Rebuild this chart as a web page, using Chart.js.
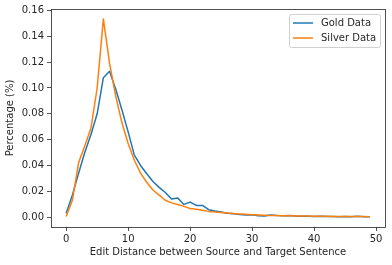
<!DOCTYPE html>
<html>
<head>
<meta charset="utf-8">
<script src="https://cdn.jsdelivr.net/npm/chart.js@4/dist/chart.umd.min.js"></script>
<style>
  body { margin: 0; background: #fff; }
  #wrap { width: 392px; height: 265px; }
</style>
</head>
<body>
<div id="wrap"><canvas id="chart"></canvas></div>
<script>
const distances = [0, 1, 2, 3, 4, 5, 6, 7, 8, 9, 10, 11, 12, 13, 14, 15, 16, 17, 18, 19,
  20, 21, 22, 23, 24, 25, 26, 27, 28, 29, 30, 31, 32, 33, 34, 35, 36, 37, 38, 39,
  40, 41, 42, 43, 44, 45, 46, 47, 48, 49];

const goldData = [0.003, 0.017, 0.034, 0.050, 0.064, 0.080, 0.108, 0.113, 0.099, 0.083,
  0.066, 0.048, 0.040, 0.0336, 0.0276, 0.023, 0.019, 0.014, 0.0147, 0.0098,
  0.0116, 0.009, 0.009, 0.0057, 0.0047, 0.004, 0.003, 0.0025, 0.002, 0.0015,
  0.0017, 0.001, 0.0008, 0.0016, 0.0012, 0.001, 0.0013, 0.0008, 0.0006, 0.0007,
  0.0005, 0.0006, 0.0004, 0.0005, 0.0003, 0.0004, 0.0003, 0.0006, 0.0003, 0.0002];

const silverData = [0.0005, 0.013, 0.042, 0.055, 0.069, 0.100, 0.1535, 0.119, 0.0935, 0.073,
  0.057, 0.044, 0.034, 0.027, 0.021, 0.017, 0.013, 0.011, 0.0098, 0.0083,
  0.0067, 0.006, 0.0052, 0.0044, 0.0039, 0.0036, 0.0032, 0.0028, 0.0024, 0.0021,
  0.0018, 0.0016, 0.0014, 0.0013, 0.0012, 0.0011, 0.001, 0.0009, 0.0008, 0.0008,
  0.0007, 0.0006, 0.0006, 0.0005, 0.0005, 0.0005, 0.0004, 0.0004, 0.0004, 0.0003];

const seriesLabels = ["Gold Data", "Silver Data"];
const seriesColors = ["#1f77b4", "#ff7f0e"];
const xTicks = [0, 10, 20, 30, 40, 50];
const yTicks = [0, 0.02, 0.04, 0.06, 0.08, 0.10, 0.12, 0.14, 0.16];

const FONT = "DejaVu Sans";
const INK = "#262626";

const toPoints = (values) => values.map((y, i) => ({ x: distances[i], y }));

// matplotlib-like box around the axes plus the legend in the upper right
const frameAndLegend = {
  id: "frameAndLegend",
  afterDraw(chart) {
    const { ctx, chartArea } = chart;
    ctx.save();
    ctx.strokeStyle = INK;
    ctx.lineWidth = 0.8;
    ctx.strokeRect(chartArea.left + 0.5, chartArea.top + 0.5,
      chartArea.right - chartArea.left, chartArea.bottom - chartArea.top);

    const w = 91, h = 33;
    const x = chartArea.right - 5 - w, y = chartArea.top + 5.5;
    ctx.beginPath();
    ctx.roundRect(x + 0.5, y, w, h, 2);
    ctx.fillStyle = "rgba(255,255,255,0.8)";
    ctx.fill();
    ctx.strokeStyle = "#d0d0d0";
    ctx.lineWidth = 1;
    ctx.stroke();

    ctx.font = `10px "${FONT}"`;
    ctx.textBaseline = "middle";
    seriesLabels.forEach((label, i) => {
      const ly = y + 8.5 + i * 15;
      ctx.strokeStyle = seriesColors[i];
      ctx.lineWidth = 1.5;
      ctx.beginPath();
      ctx.moveTo(x + 4, ly);
      ctx.lineTo(x + 24, ly);
      ctx.stroke();
      ctx.fillStyle = INK;
      ctx.fillText(label, x + 32, ly);
    });
    ctx.restore();
  },
};

const lineStyle = {
  borderWidth: 1.5,
  borderJoinStyle: "round",
  borderCapStyle: "butt",
  pointRadius: 0,
};

new Chart(document.getElementById("chart"), {
  type: "line",
  data: {
    datasets: [
      { ...lineStyle, label: seriesLabels[0], data: toPoints(goldData), borderColor: seriesColors[0], order: 1 },
      { ...lineStyle, label: seriesLabels[1], data: toPoints(silverData), borderColor: seriesColors[1], order: 0 },
    ],
  },
  options: {
    responsive: true,
    maintainAspectRatio: false,
    animation: false,
    layout: { padding: { left: 0, top: 9, right: 7, bottom: 0 } },
    plugins: {
      legend: { display: false },
      tooltip: { enabled: false },
    },
    scales: {
      x: {
        type: "linear",
        min: -2.45,
        max: 51.45,
        afterFit: (scale) => { scale.height = 38; },
        afterBuildTicks: (scale) => { scale.ticks = xTicks.map((value) => ({ value })); },
        border: { display: false },
        grid: { drawOnChartArea: false, tickLength: 4, color: INK, tickWidth: 0.8 },
        ticks: {
          padding: 2,
          color: INK,
          font: { family: FONT, size: 10 },
          callback: (v) => String(v),
        },
        title: {
          display: true,
          text: "Edit Distance between Source and Target Sentence",
          color: INK,
          font: { family: FONT, size: 10 },
          padding: { top: 0, bottom: 7 },
        },
      },
      y: {
        type: "linear",
        min: -0.0077,
        max: 0.1612,
        afterFit: (scale) => { scale.width = 51; },
        afterBuildTicks: (scale) => { scale.ticks = yTicks.map((value) => ({ value })); },
        border: { display: false },
        grid: { drawOnChartArea: false, tickLength: 4, color: INK, tickWidth: 0.8 },
        ticks: {
          padding: 3,
          color: INK,
          font: { family: FONT, size: 10 },
          callback: (v) => Number(v).toFixed(2),
        },
        title: {
          display: true,
          text: "Percentage (%)",
          color: INK,
          font: { family: FONT, size: 10 },
          padding: { top: 4, bottom: 0 },
        },
      },
    },
  },
  plugins: [frameAndLegend],
});
</script>
</body>
</html>
